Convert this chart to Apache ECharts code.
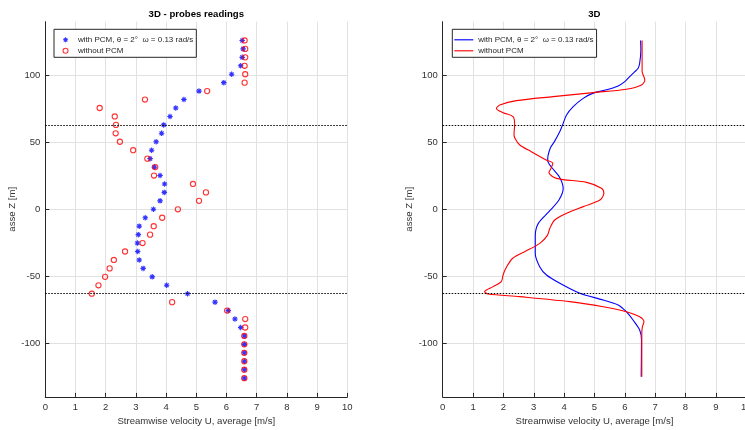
<!DOCTYPE html>
<html><head><meta charset="utf-8">
<script src="https://cdn.jsdelivr.net/npm/echarts@6/dist/echarts.min.js"></script>
<style>html,body{margin:0;padding:0;background:#fff}#c{width:745px;height:430px}</style>
</head><body><div id="c"></div>
<script>
// ---- data ----
const probeZ = [126, 119.7, 113.4, 107.1, 100.8, 94.5, 88.2, 81.9, 75.6, 69.3, 63, 56.7, 50.4, 44.1, 37.8, 31.5, 25.2, 18.9, 12.6, 6.3, 0, -6.3, -12.6, -18.9, -25.2, -31.5, -37.8, -44.1, -50.4, -56.7, -63, -69.3, -75.6, -81.9, -88.2, -94.5, -100.8, -107.1, -113.4, -119.7, -126];
const probeWithPCM = [6.52, 6.55, 6.52, 6.47, 6.17, 5.91, 5.09, 4.59, 4.32, 4.13, 3.92, 3.85, 3.67, 3.52, 3.47, 3.61, 3.80, 3.95, 3.94, 3.80, 3.58, 3.31, 3.11, 3.08, 3.05, 3.06, 3.11, 3.24, 3.54, 4.02, 4.71, 5.62, 6.06, 6.28, 6.47, 6.59, 6.59, 6.59, 6.59, 6.59, 6.59];
const probeWithoutPCM = [6.60, 6.62, 6.62, 6.60, 6.62, 6.60, 5.36, 3.30, 1.80, 2.30, 2.34, 2.33, 2.47, 2.91, 3.38, 3.64, 3.60, 4.89, 5.32, 5.09, 4.39, 3.87, 3.59, 3.47, 3.22, 2.64, 2.27, 2.13, 1.98, 1.76, 1.54, 4.20, 6.02, 6.62, 6.62, 6.59, 6.59, 6.59, 6.59, 6.59, 6.59];

const curveWithZ = [126, 119, 109, 105.2, 102.7, 99, 95.3, 92.1, 89.2, 86.7, 82.8, 76.6, 70.4, 63, 58, 50.5, 46, 40, 36.5, 31, 24, 15.7, 6.9, -1.8, -10.5, -20, -33, -43, -49, -55.2, -62.7, -67.7, -71.4, -76.4, -82.6, -90.1, -97.5, -125];
const curveWithU = [6.52, 6.53, 6.49, 6.44, 6.33, 6.16, 6.0, 5.78, 5.40, 4.96, 4.63, 4.30, 4.08, 3.95, 3.86, 3.68, 3.55, 3.47, 3.46, 3.60, 3.85, 3.97, 3.83, 3.50, 3.15, 3.05, 3.05, 3.20, 3.42, 3.86, 4.52, 5.29, 5.78, 6.05, 6.27, 6.49, 6.55, 6.54];
const curveWithoutZ = [126, 103, 96.5, 92.8, 89.6, 87.1, 84.1, 81.1, 77.8, 75.3, 72.1, 69.1, 63, 56, 53, 48, 43, 36.8, 34.3, 30.6, 27.4, 23.1, 20.1, 15.7, 11.9, 6.9, 2, -3, -8, -14.2, -19.5, -25.4, -31.6, -36.7, -44, -49, -54, -57.7, -61.5, -63.2, -65.2, -68.9, -72.7, -76.4, -80.2, -83.9, -87.6, -92.6, -125];
const curveWithoutU = [6.57, 6.57, 6.66, 6.55, 6.05, 4.96, 3.64, 2.43, 1.88, 1.77, 1.99, 2.32, 2.37, 2.35, 2.38, 2.54, 2.92, 3.41, 3.63, 3.57, 3.50, 3.75, 4.74, 5.23, 5.31, 5.18, 4.63, 4.08, 3.69, 3.53, 3.45, 3.20, 2.70, 2.30, 2.08, 1.99, 1.93, 1.66, 1.38, 1.49, 2.54, 4.19, 5.29, 6.05, 6.49, 6.63, 6.58, 6.56, 6.56];

const zTicks = [-100, -50, 0, 50, 100];
const guideLevels = [63, -63];
const titles = ['3D - probes readings', '3D'];
const xName = 'Streamwise velocity U, average [m/s]';
const yName = 'asse Z [m]';
const labelWith = 'with PCM, θ = 2°  ω = 0.13 rad/s';
const labelWithout = 'without PCM';

// ---- chart ----
const FONT = '"Liberation Sans", Arial, Helvetica, sans-serif';
const BLUE = '#0000ff', RED = '#ff0000';
const ASTER = 'path://M0 8L20 8L20 12L0 12Z M8 0L12 0L12 20L8 20Z M4.41 1.59L18.41 15.59L15.59 18.41L1.59 4.41Z M18.41 4.41L4.41 18.41L1.59 15.59L15.59 1.59Z';
const LINEICON = 'path://M0 0L40 0L40 2.4L0 2.4Z';
const LBL = {pWith: labelWith, pWithout: labelWithout, cWith: labelWith, cWithout: labelWithout};

function xAx(gi) {
  return {
    type: 'value', gridIndex: gi, min: 0, max: 10, interval: 1,
    name: xName, nameLocation: 'middle', nameGap: 18,
    nameTextStyle: {fontSize: 9.6, color: '#333', fontFamily: FONT},
    axisLine: {show: true, onZero: false, lineStyle: {color: '#262626', width: 1}},
    axisTick: {show: true, inside: true, length: 4, lineStyle: {color: '#262626', width: 1}},
    axisLabel: {show: true, fontSize: 9.5, color: '#333', margin: 5, fontFamily: FONT},
    splitLine: {show: true, lineStyle: {color: '#e2e2e2', width: 1}}
  };
}
function yAx(gi, gap) {
  return {
    type: 'value', gridIndex: gi, min: -140, max: 140,
    name: yName, nameLocation: 'middle', nameGap: gap, nameRotate: 90,
    nameTextStyle: {fontSize: 9.6, color: '#333', fontFamily: FONT},
    axisLine: {show: true, onZero: false, lineStyle: {color: '#262626', width: 1}},
    axisTick: {show: true, inside: true, length: 4, customValues: zTicks, lineStyle: {color: '#262626', width: 1}},
    axisLabel: {show: true, fontSize: 9.5, color: '#333', margin: 5, fontFamily: FONT, customValues: zTicks},
    splitLine: {show: true, lineStyle: {color: '#e2e2e2', width: 1}}
  };
}
function guides() {
  return {
    silent: true, symbol: ['none', 'none'], animation: false,
    label: {show: false},
    lineStyle: {color: '#000', width: 1.2, type: [1.5, 1.5]},
    emphasis: {disabled: true},
    data: guideLevels.map(v => ({yAxis: v}))
  };
}

const option = {
  animation: false,
  backgroundColor: '#fff',
  title: [
    {text: titles[0], left: 196.3, top: 9, textAlign: 'center', padding: 0,
     textStyle: {fontSize: 9.6, fontWeight: 'bold', color: '#000', fontFamily: FONT}},
    {text: titles[1], left: 594.4, top: 9, textAlign: 'center', padding: 0,
     textStyle: {fontSize: 9.6, fontWeight: 'bold', color: '#000', fontFamily: FONT}}
  ],
  grid: [
    {left: 45.3, top: 21.7, width: 302, height: 375.2, outerBoundsMode: 'none', containLabel: false},
    {left: 442.7, top: 21.7, width: 303.5, height: 375.2, outerBoundsMode: 'none', containLabel: false}
  ],
  legend: [
    {left: 54, top: 29.3, orient: 'vertical', backgroundColor: '#fff', borderColor: '#262626', borderWidth: 1,
     borderRadius: 0, padding: [6, 3, 2, 8.5], itemGap: 2, itemWidth: 15, itemHeight: 5, selectedMode: false,
     symbolKeepAspect: true,
     textStyle: {fontSize: 8, color: '#262626', fontFamily: FONT, lineHeight: 9},
     formatter: n => LBL[n],
     data: [
       {name: 'pWith', icon: ASTER, itemStyle: {color: BLUE, borderWidth: 0}},
       {name: 'pWithout', icon: 'circle', itemStyle: {color: 'rgba(0,0,0,0)', borderColor: RED, borderWidth: 1.1}}
     ]},
    {left: 452.3, top: 29.3, orient: 'vertical', backgroundColor: '#fff', borderColor: '#262626', borderWidth: 1,
     borderRadius: 0, padding: [6, 3, 2, 2], itemGap: 2, itemWidth: 19, itemHeight: 5, selectedMode: false,
     symbolKeepAspect: true,
     textStyle: {fontSize: 8, color: '#262626', fontFamily: FONT, lineHeight: 9},
     formatter: n => LBL[n],
     data: [
       {name: 'cWith', icon: LINEICON, itemStyle: {color: BLUE, borderWidth: 0}},
       {name: 'cWithout', icon: LINEICON, itemStyle: {color: RED, borderWidth: 0}}
     ]}
  ],
  xAxis: [xAx(0), xAx(1)],
  yAxis: [yAx(0, 22), yAx(1, 25)],
  series: [
    {name: 'pWith', type: 'scatter', xAxisIndex: 0, yAxisIndex: 0,
     data: probeZ.map((z, i) => [probeWithPCM[i], z]),
     symbol: ASTER, symbolSize: 5.5, symbolKeepAspect: true,
     itemStyle: {color: BLUE}, markLine: guides()},
    {name: 'pWithout', type: 'scatter', xAxisIndex: 0, yAxisIndex: 0,
     data: probeZ.map((z, i) => [probeWithoutPCM[i], z]),
     symbol: 'circle', symbolSize: 5.2,
     itemStyle: {color: 'rgba(0,0,0,0)', borderColor: RED, borderWidth: 1.1}},
    {name: 'cWith', type: 'line', xAxisIndex: 1, yAxisIndex: 1,
     data: curveWithZ.map((z, i) => [curveWithU[i], z]),
     symbol: 'none', showSymbol: false, smooth: 0.3,
     lineStyle: {color: BLUE, width: 1.1}, itemStyle: {color: BLUE}, markLine: guides()},
    {name: 'cWithout', type: 'line', xAxisIndex: 1, yAxisIndex: 1,
     data: curveWithoutZ.map((z, i) => [curveWithoutU[i], z]),
     symbol: 'none', showSymbol: false, smooth: 0.3,
     lineStyle: {color: RED, width: 1.1}, itemStyle: {color: RED}}
  ]
};
const chart = echarts.init(document.getElementById('c'), null, {renderer: 'canvas'});
chart.setOption(option);
</script>
</body></html>
